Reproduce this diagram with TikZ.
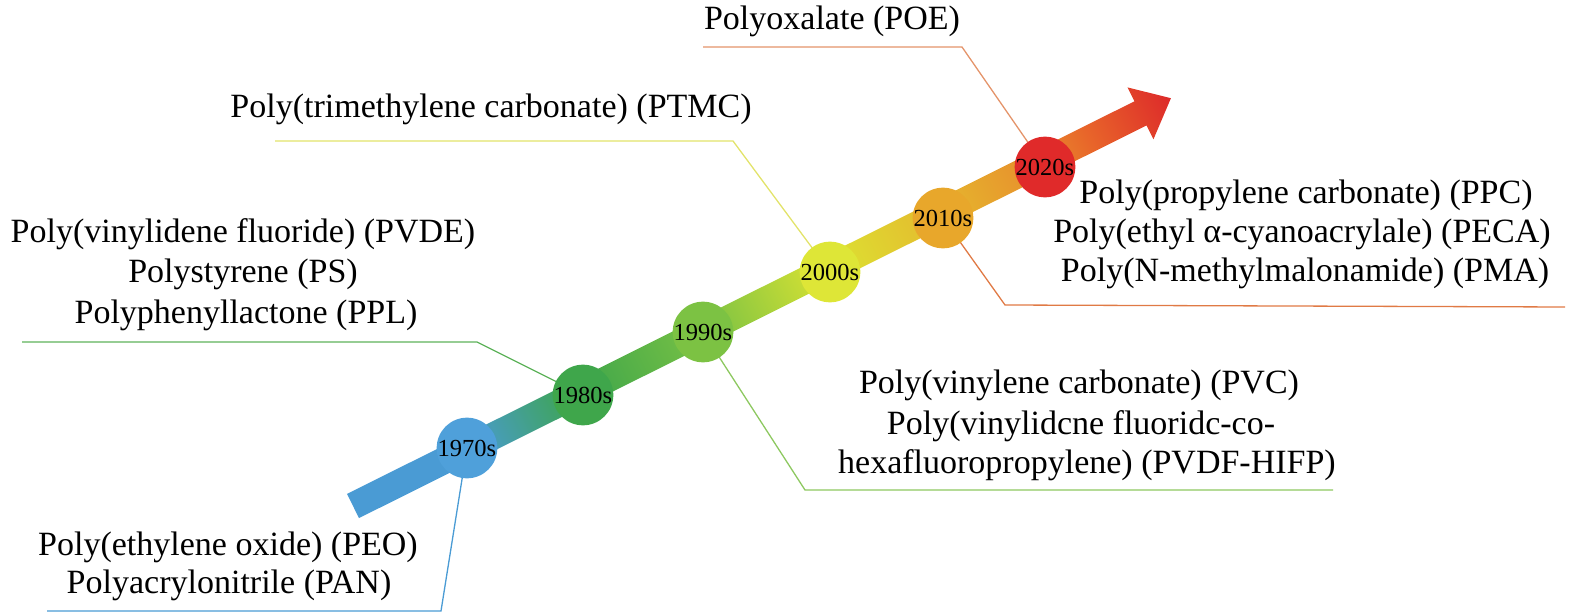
\documentclass[tikz,border=0pt]{standalone}
\usepackage{fontspec}
\setmainfont{Liberation Serif}
\definecolor{bA}{HTML}{4A9BD4}
\definecolor{bB}{HTML}{3DA54B}
\definecolor{bC}{HTML}{78C144}
\definecolor{bD}{HTML}{DCE332}
\definecolor{bE}{HTML}{E5B82E}
\definecolor{bF}{HTML}{E88A2C}
\definecolor{bG}{HTML}{E8652A}
\definecolor{bH}{HTML}{DD2A2A}
\definecolor{k70}{HTML}{4FA0DA}
\definecolor{k80}{HTML}{3FA64B}
\definecolor{k90}{HTML}{7CC243}
\definecolor{k00}{HTML}{DEE637}
\definecolor{k10}{HTML}{E8A72B}
\definecolor{k20}{HTML}{E02A2A}
\definecolor{l70}{HTML}{4A9BD4}
\definecolor{l80}{HTML}{5DB25A}
\definecolor{l90}{HTML}{8DC860}
\definecolor{l00}{HTML}{E2E36A}
\definecolor{l10}{HTML}{E07A45}
\definecolor{l20}{HTML}{E4946A}
\pgfdeclarehorizontalshading{timeline}{100bp}{color(0bp)=(bA); color(25bp)=(bA); color(32.1bp)=(bA); color(38.7bp)=(bB); color(46.4bp)=(bC); color(54.1bp)=(bD); color(61bp)=(bE); color(67.2bp)=(bF); color(70bp)=(bG); color(75bp)=(bH); color(100bp)=(bH)}
\begin{document}
\begin{tikzpicture}[x=1pt,y=1pt,
  decade/.style={circle,inner sep=0pt,minimum size=58pt,font=\fontsize{24.5}{26}\selectfont},
  lbl/.style={anchor=base,inner sep=0pt,font=\fontsize{34}{38}\selectfont},
  conn/.style={line width=1.3pt}]
\useasboundingbox (0,0) rectangle (1575,614);
% timeline band
\begin{scope}[transform canvas={shift={(353,108)},rotate=26.5}]
  \shade[shading=timeline] (0,-13.5) -- (880,-13.5) -- (880,-29) -- (914,0) -- (880,29) -- (880,13.5) -- (0,13.5) -- cycle;
\end{scope}
% decade nodes (positions)
\coordinate (p70) at (467,166);
\coordinate (p80) at (583,219);
\coordinate (p90) at (703,282);
\coordinate (p00) at (830,342);
\coordinate (p10) at (943,396);
\coordinate (p20) at (1045,447);
% connector coordinates
\coordinate (b70) at (441,3);  \coordinate (e70) at (47,3);
\coordinate (b80) at (477,272); \coordinate (e80) at (22,272);
\coordinate (b90) at (805,124); \coordinate (e90) at (1333,124);
\coordinate (b00) at (733,473); \coordinate (e00) at (275,473);
\coordinate (b10) at (1005,309); \coordinate (e10) at (1565,307);
\coordinate (b20) at (962,567); \coordinate (e20) at (703,567);
\draw[conn,l70] (p70) -- (b70) -- (e70);
\draw[conn,l80] (p80) -- (b80) -- (e80);
\draw[conn,l90] (p90) -- (b90) -- (e90);
\draw[conn,l00] (p00) -- (b00) -- (e00);
\draw[conn,l10] (p10) -- (b10) -- (e10);
\draw[conn,l20] (p20) -- (b20) -- (e20);
% circles
\node[decade,fill=k70] (n70) at (p70) {1970s};
\node[decade,fill=k80] (n80) at (p80) {1980s};
\node[decade,fill=k90] (n90) at (p90) {1990s};
\node[decade,fill=k00] (n00) at (p00) {2000s};
\node[decade,fill=k10] (n10) at (p10) {2010s};
\node[decade,fill=k20] (n20) at (p20) {2020s};
% labels
\node[lbl] (poe) at (832,584) {Polyoxalate (POE)};
\node[lbl] (ptmc) at (491,496) {Poly(trimethylene carbonate) (PTMC)};
\node[lbl] (pvde) at (243,371) {Poly(vinylidene fluoride) (PVDE)};
\node[lbl] (ps) at (243,331) {Polystyrene (PS)};
\node[lbl] (ppl) at (246,290) {Polyphenyllactone (PPL)};
\node[lbl] (ppc) at (1306,410) {Poly(propylene carbonate) (PPC)};
\node[lbl] (peca) at (1302,371) {Poly(ethyl α-cyanoacrylale) (PECA)};
\node[lbl] (pma) at (1305,332) {Poly(N-methylmalonamide) (PMA)};
\node[lbl] (pvc) at (1079,220) {Poly(vinylene carbonate) (PVC)};
\node[lbl] (pvdf1) at (1081,180) {Poly(vinylidcne fluoridc-co-};
\node[lbl] (pvdf2) at (1087,141) {hexafluoropropylene) (PVDF-HIFP)};
\node[lbl] (peo) at (228,59) {Poly(ethylene oxide) (PEO)};
\node[lbl] (pan) at (229,21) {Polyacrylonitrile (PAN)};
\end{tikzpicture}
\end{document}
